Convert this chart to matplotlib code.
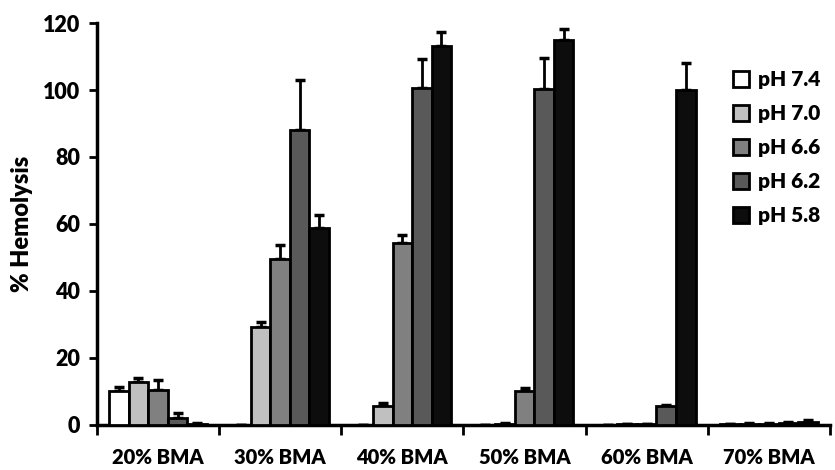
import matplotlib
matplotlib.use("Agg")
import matplotlib.pyplot as plt
import numpy as np

plt.rcParams['font.family'] = ['Lato', 'DejaVu Sans']
plt.rcParams['font.weight'] = 'heavy'

groups = ['20% BMA', '30% BMA', '40% BMA', '50% BMA', '60% BMA', '70% BMA']
series = ['pH 7.4', 'pH 7.0', 'pH 6.6', 'pH 6.2', 'pH 5.8']
colors = ['#ffffff', '#c0c0c0', '#808080', '#595959', '#0d0d0d']

# mean % hemolysis per group, one list per pH
ph74 = [10.0, 0.0, 0.0, 0.0, 0.0, 0.3]
ph70 = [12.8, 29.3, 5.5, 0.3, 0.2, 0.4]
ph66 = [10.5, 49.4, 54.2, 10.0, 0.2, 0.4]
ph62 = [2.2, 88.0, 100.5, 100.2, 5.5, 0.6]
ph58 = [0.4, 58.7, 113.0, 115.0, 100.0, 1.0]

# upper error
err74 = [1.2, 0.0, 0.0, 0.0, 0.0, 0.1]
err70 = [1.2, 1.5, 1.0, 0.2, 0.1, 0.1]
err66 = [2.8, 4.3, 2.5, 1.0, 0.1, 0.1]
err62 = [1.2, 15.0, 8.7, 9.5, 0.5, 0.2]
err58 = [0.2, 4.0, 4.3, 3.3, 8.0, 0.6]

vals = [ph74, ph70, ph66, ph62, ph58]
errs = [err74, err70, err66, err62, err58]

fig = plt.figure(figsize=(8.35, 4.7), dpi=100)
ax = fig.add_axes([0.116, 0.096, 0.878, 0.855])

x = np.arange(len(groups))
w = 0.16
for i in range(len(series)):
    pos = x + (i - 2) * w
    e = np.array(errs[i])
    ax.bar(pos, vals[i], width=w, color=colors[i], edgecolor='black',
           linewidth=2, label=series[i], zorder=3,
           yerr=[np.zeros_like(e), e],
           error_kw=dict(ecolor='black', elinewidth=2, capsize=3.5, capthick=2.5, zorder=2))

ax.set_ylim(0, 120)
ax.set_xlim(-0.5, len(groups) - 0.5)
ax.set_yticks(np.arange(0, 121, 20))
ax.tick_params(axis='y', labelsize=15.5, width=2, length=6, direction='out', pad=6)
ax.set_xticks(x)
ax.set_xticklabels(groups, fontsize=14.5)
ax.tick_params(axis='x', which='major', length=0, pad=17)
ax.set_xticks(np.arange(-0.5, len(groups), 1), minor=True)
ax.tick_params(axis='x', which='minor', length=7, width=2, direction='out')

ax.set_ylabel('% Hemolysis', fontsize=17, fontweight='heavy', labelpad=7)

ax.spines['top'].set_visible(False)
ax.spines['right'].set_visible(False)
ax.spines['left'].set_linewidth(2.5)
ax.spines['bottom'].set_linewidth(2.5)

leg = ax.legend(loc='upper right', bbox_to_anchor=(1.012, 0.93), frameon=False,
                fontsize=15, handlelength=0.8, handleheight=0.8,
                handletextpad=0.4, labelspacing=0.72)

fig.savefig('out.png', dpi=100)
